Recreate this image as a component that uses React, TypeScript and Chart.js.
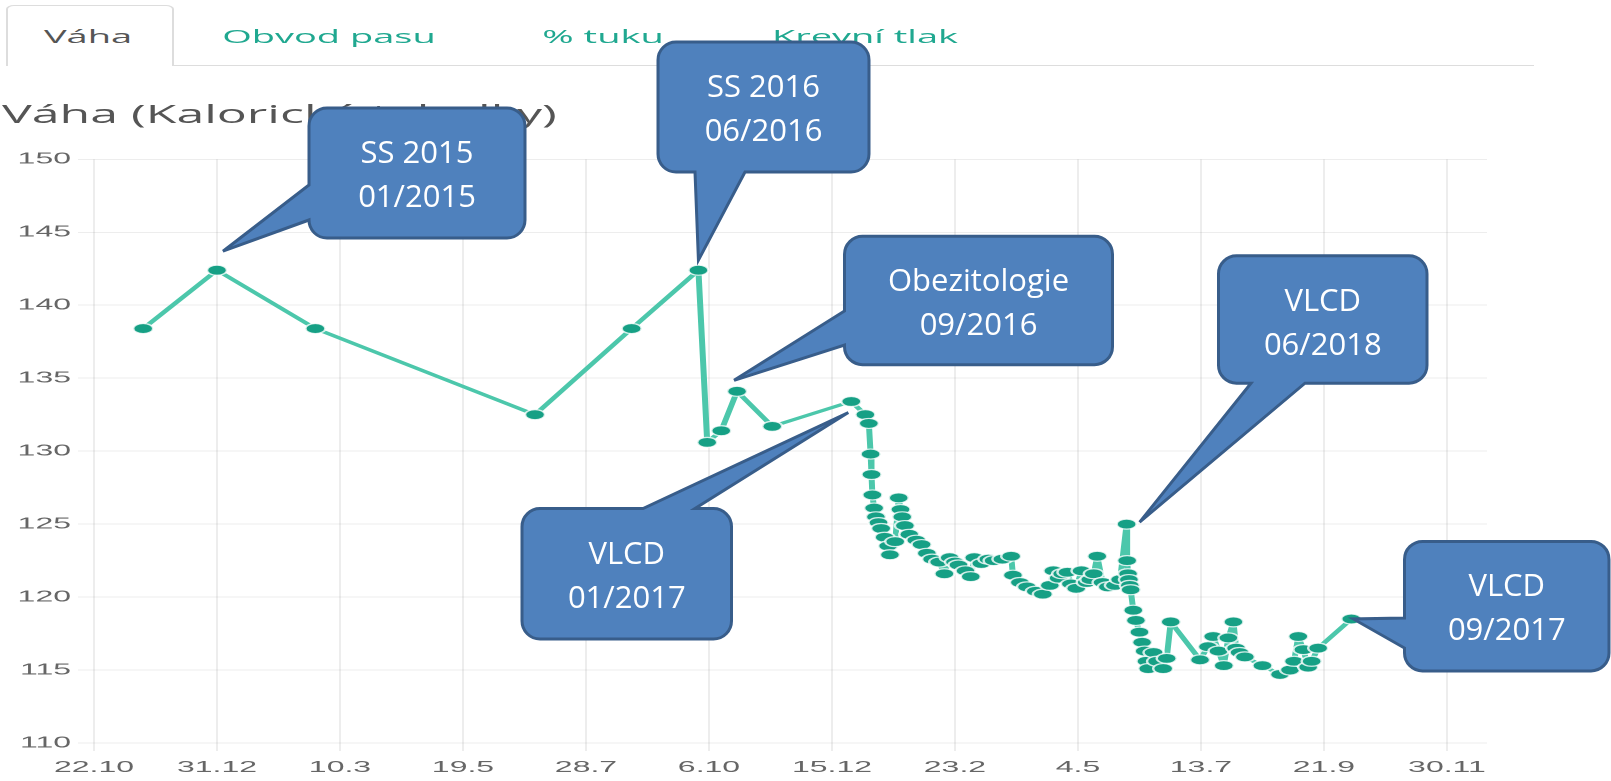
import React, { useEffect, useRef } from "react";
import { Chart, registerables } from "chart.js";

Chart.register(...registerables);

// ---------- texts ----------
const TAB_LABELS = ["Váha", "Obvod pasu", "% tuku", "Krevní tlak"];
const CHART_TITLE = "Váha (Kalorické tabulky)";

// ---------- axes ----------
const X_TICK_DAYS = [0, 70, 140, 210, 280, 350, 420, 490, 560, 630, 700, 770];
const X_TICK_LABELS = ["22.10", "31.12", "10.3", "19.5", "28.7", "6.10", "15.12", "23.2", "4.5", "13.7", "21.9", "30.11"];
const X_MIN = -4.55;
const X_MAX = 792.8;
const Y_MIN = 110;
const Y_MAX = 150;
const Y_STEP = 5;

// ---------- data (days since 22.10, weight kg) ----------
const DAYS = [
  28, 70, 126, 251, 306, 344, 349, 357, 366, 386, 431,
  439, 441, 442, 442.5, 443, 444, 445, 446.5, 448, 450, 452, 453, 456,
  458, 459, 460, 461.5, 464, 468, 471, 474, 477, 481, 484, 487, 490, 492,
  496, 499, 501, 505, 509, 512, 517, 522, 523, 527, 531, 536, 540, 544,
  546, 549, 551, 554, 556, 559, 562, 565, 567, 569, 571, 574, 577, 581, 584,
  587.7, 588, 588.5, 589, 589.5, 590, 591.5, 593, 595, 596.5, 598, 599, 600,
  603, 605, 608.5, 610.5, 612.8, 629.5, 634, 637, 640, 643, 645.6, 648.5,
  650, 652, 655, 665, 675, 680.7, 683, 685.4, 688.3, 691, 693, 696.7, 715.6,
];
const WEIGHTS = [
  138.4, 142.4, 138.4, 132.5, 138.4, 142.4, 130.6, 131.4, 134.1, 131.7, 133.4,
  132.5, 131.9, 129.8, 128.4, 127.0, 126.1, 125.5, 125.1, 124.7, 124.1, 123.5, 122.9, 123.8,
  126.8, 126.0, 125.5, 124.9, 124.3, 123.9, 123.6, 123.0, 122.6, 122.4, 121.6, 122.7, 122.4, 122.2,
  121.8, 121.4, 122.7, 122.3, 122.6, 122.5, 122.6, 122.8, 121.5, 121.0, 120.7, 120.4, 120.2, 120.8,
  121.8, 121.3, 121.6, 121.7, 120.9, 120.6, 121.8, 121.0, 121.2, 121.6, 122.8, 121.0, 120.7, 120.8, 121.2,
  125.0, 122.5, 121.6, 121.2, 120.8, 120.5, 119.1, 118.4, 117.6, 116.9, 116.3, 115.6, 115.1,
  116.2, 115.6, 115.1, 115.8, 118.3, 115.7, 116.6, 117.3, 116.3, 115.3, 117.2, 118.3,
  116.5, 116.2, 115.9, 115.3, 114.7, 115.0, 115.6, 117.3, 116.4, 115.2, 115.6, 116.5, 118.5,
];

// ---------- callout annotations ----------
const CALLOUT_TEXTS = [
  ["SS 2015", "01/2015"],
  ["SS 2016", "06/2016"],
  ["Obezitologie", "09/2016"],
  ["VLCD", "01/2017"],
  ["VLCD", "06/2018"],
  ["VLCD", "09/2017"],
];
const CALLOUT_ANCHOR_DAYS = [70, 344, 366, 431, 587.7, 715.6];

// layout of the callouts (page pixels)
const CALLOUT_LAYOUT = [
  { tip: [6, -19], box: [309, 108, 216, 130], side: "left", base: [185, 220] },
  { tip: [0, -10], box: [658, 42, 211, 130], side: "bottom", base: [695, 745] },
  { tip: [-3, -11], box: [844.5, 236.3, 268, 128.4], side: "left", base: [311, 345] },
  { tip: [-3, 11], box: [522, 508.6, 209.5, 130.4], side: "top", base: [643, 695] },
  { tip: [13, -2], box: [1218.5, 255.8, 208.5, 127.4], side: "bottom", base: [1251, 1305] },
  { tip: [2, 0], box: [1404.5, 541.4, 204.5, 129.5], side: "left", base: [618, 648] },
];

const SX = 2;
const SY = 1;
const CANVAS_TOP = 130;
const CANVAS_W = 760;
const CANVAS_H = 653;

function calloutPath(ctx: CanvasRenderingContext2D, x: number, y: number, w: number, h: number, r: number, side: string, b1: number, b2: number, tx: number, ty: number) {
  ctx.beginPath();
  ctx.moveTo(x + r, y);
  if (side === "top") {
    ctx.lineTo(b1, y);
    ctx.lineTo(tx, ty);
    ctx.lineTo(b2, y);
  }
  ctx.lineTo(x + w - r, y);
  ctx.arcTo(x + w, y, x + w, y + r, r);
  ctx.lineTo(x + w, y + h - r);
  ctx.arcTo(x + w, y + h, x + w - r, y + h, r);
  if (side === "bottom") {
    ctx.lineTo(b2, y + h);
    ctx.lineTo(tx, ty);
    ctx.lineTo(b1, y + h);
  }
  ctx.lineTo(x + r, y + h);
  ctx.arcTo(x, y + h, x, y + h - r, r);
  if (side === "left") {
    ctx.lineTo(x, b2);
    ctx.lineTo(tx, ty);
    ctx.lineTo(x, b1);
  }
  ctx.lineTo(x, y + r);
  ctx.arcTo(x, y, x + r, y, r);
  ctx.closePath();
}

export default function App() {
  const canvasRef = useRef<HTMLCanvasElement | null>(null);
  const overlayRef = useRef<HTMLCanvasElement | null>(null);

  useEffect(() => {
    const canvas = canvasRef.current!;
    const overlay = overlayRef.current!;

    const calloutPlugin = {
      id: "callouts",
      afterDraw(chart: any) {
        const ctx = overlay.getContext("2d")!;
        ctx.clearRect(0, 0, overlay.width, overlay.height);
        const xs = chart.scales.x;
        const ys = chart.scales.y;
        CALLOUT_TEXTS.forEach((lines, i) => {
          const idx = DAYS.indexOf(CALLOUT_ANCHOR_DAYS[i]);
          const L = CALLOUT_LAYOUT[i];
          const px = xs.getPixelForValue(DAYS[idx]) * SX;
          const py = CANVAS_TOP + ys.getPixelForValue(WEIGHTS[idx]) * SY;
          const tx = px + L.tip[0];
          const ty = py + L.tip[1];
          const [bx, by, bw, bh] = L.box;
          ctx.save();
          calloutPath(ctx, bx, by, bw, bh, 18, L.side, L.base[0], L.base[1], tx, ty);
          ctx.fillStyle = "#4f81bd";
          ctx.fill();
          ctx.lineWidth = 3;
          ctx.lineJoin = "miter";
          ctx.miterLimit = 4;
          ctx.strokeStyle = "#385d8a";
          ctx.stroke();
          ctx.fillStyle = "#ffffff";
          ctx.font = '31px "Open Sans", "Noto Sans", sans-serif';
          ctx.textAlign = "center";
          ctx.textBaseline = "alphabetic";
          ctx.fillText(lines[0], bx + bw / 2, by + 55);
          ctx.fillText(lines[1], bx + bw / 2, by + 99);
          ctx.restore();
        });
      },
    };

    const tickFont = { family: '"Liberation Sans", Arial, sans-serif', size: 16 };
    const gridColor = "rgba(0,0,0,0.07)";

    const chart = new Chart(canvas, {
      type: "line",
      data: {
        datasets: [
          {
            data: DAYS.map((d, i) => ({ x: d, y: WEIGHTS[i] })),
            borderColor: "#4cc7ab",
            borderWidth: 3,
            borderJoinStyle: "round",
            borderCapStyle: "round",
            pointRadius: 5,
            pointBackgroundColor: "#16a085",
            pointBorderColor: "rgba(255,255,255,0.8)",
            pointBorderWidth: 1.2,
            tension: 0,
            fill: false,
          },
        ],
      },
      options: {
        responsive: false,
        animation: false,
        devicePixelRatio: 2,
        layout: { padding: { top: 29.3, right: 16.5, left: 0, bottom: 0 } },
        plugins: {
          legend: { display: false },
          tooltip: { enabled: false },
          title: { display: false },
        },
        scales: {
          x: {
            type: "linear",
            min: X_MIN,
            max: X_MAX,
            afterBuildTicks: (s: any) => {
              s.ticks = X_TICK_DAYS.map((v) => ({ value: v }));
            },
            afterFit: (s: any) => {
              s.height = 40;
            },
            ticks: {
              autoSkip: false,
              maxRotation: 0,
              padding: 7,
              color: "#666",
              font: tickFont,
              callback: (v: any) => {
                const i = X_TICK_DAYS.indexOf(Number(v));
                return i >= 0 ? X_TICK_LABELS[i] : "";
              },
            },
            grid: { color: gridColor, tickLength: 8 },
            border: { display: false },
          },
          y: {
            min: Y_MIN,
            max: Y_MAX,
            afterFit: (s: any) => {
              s.width = 43;
            },
            ticks: { stepSize: Y_STEP, padding: 3.5, color: "#666", font: tickFont },
            grid: { color: gridColor, tickLength: 4 },
            border: { display: false },
          },
        },
      },
      plugins: [calloutPlugin],
    } as any);

    return () => {
      chart.destroy();
    };
  }, []);

  const tabCenters = [44, 164.5, 301.5, 432.5];

  return (
    <div style={{ position: "absolute", left: 0, top: 0, width: 1611, height: 781, overflow: "hidden", background: "#fff" }}>
      <div
        style={{
          position: "absolute",
          left: 0,
          top: 0,
          width: 806,
          height: 781,
          transform: `scale(${SX}, ${SY})`,
          transformOrigin: "0 0",
          fontFamily: '"Open Sans", "Noto Sans", sans-serif',
        }}
      >
        <div
          style={{
            position: "absolute",
            left: 3,
            top: 5,
            width: 84,
            height: 61,
            border: "1px solid #ddd",
            borderBottom: "none",
            borderRadius: "4px 4px 0 0",
            background: "#fff",
            boxSizing: "border-box",
          }}
        />
        <div style={{ position: "absolute", left: 87, top: 65, width: 680, height: 1, background: "#ddd" }} />
        {TAB_LABELS.map((t, i) => (
          <div
            key={t}
            style={{
              position: "absolute",
              left: tabCenters[i],
              top: 27,
              transform: "translateX(-50%)",
              fontSize: 19,
              lineHeight: "19px",
              whiteSpace: "nowrap",
              color: i === 0 ? "#555" : "#20a890",
            }}
          >
            {t}
          </div>
        ))}
        <div
          style={{
            position: "absolute",
            left: 1,
            top: 101,
            fontSize: 25,
            lineHeight: "25px",
            whiteSpace: "nowrap",
            color: "#555",
          }}
        >
          {CHART_TITLE}
        </div>
        <div style={{ position: "absolute", left: 0, top: CANVAS_TOP, width: CANVAS_W, height: CANVAS_H }}>
          <canvas ref={canvasRef} width={CANVAS_W} height={CANVAS_H} />
        </div>
      </div>
      <canvas
        ref={overlayRef}
        width={1611}
        height={781}
        style={{ position: "absolute", left: 0, top: 0, width: 1611, height: 781, pointerEvents: "none" }}
      />
    </div>
  );
}
